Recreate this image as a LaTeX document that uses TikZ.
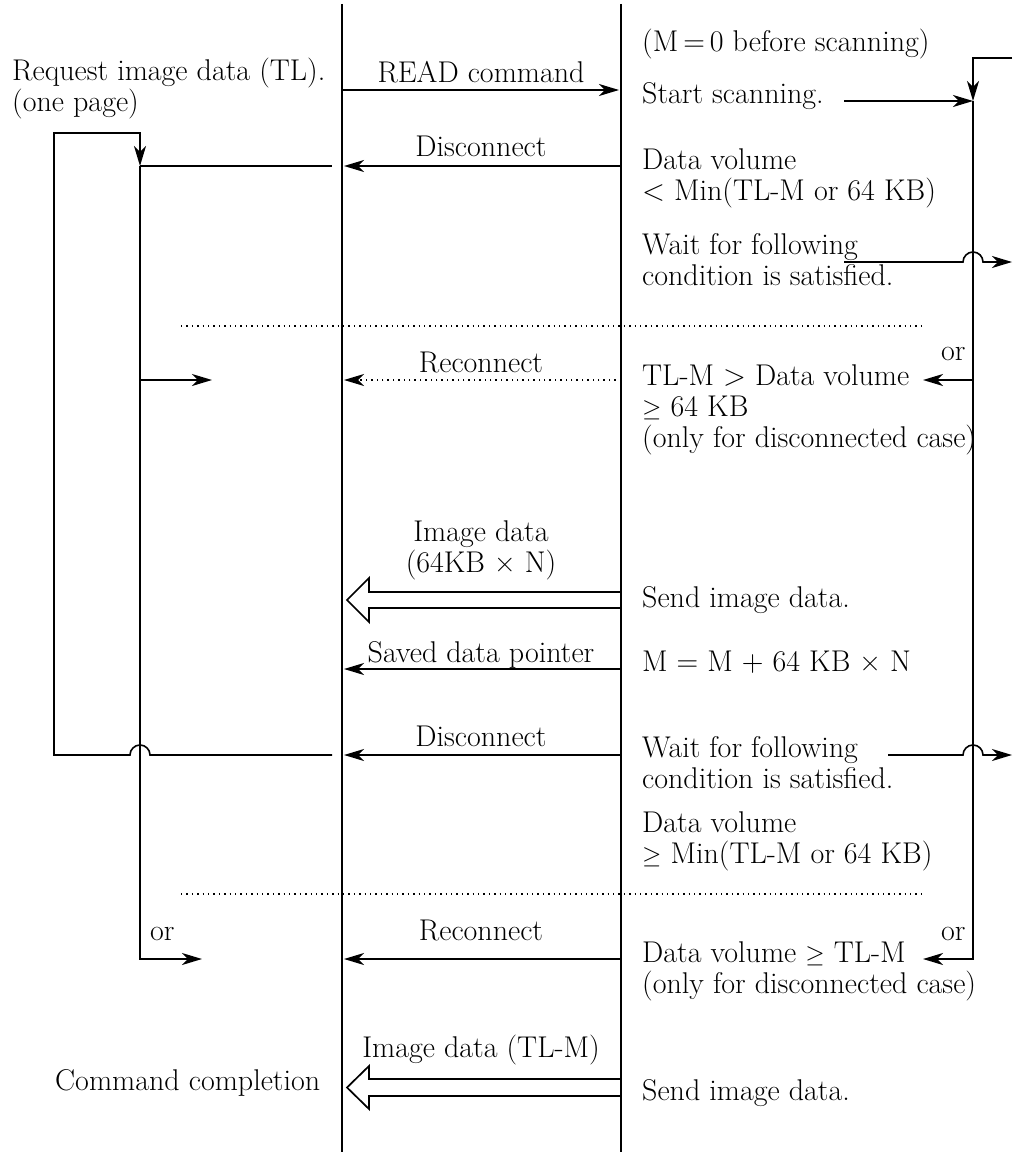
\documentclass[tikz,border=0pt]{standalone}
\usepackage{amsmath,amssymb}
\usepackage{tikz}
\usetikzlibrary{arrows.meta,calc}

\tikzset{
  life/.style={line width=1.1pt},
  link/.style={line width=1.6pt},
  msg/.style={line width=1.6pt, -{Stealth[length=20pt,width=12pt,inset=6pt]}},
  dotline/.style={line width=1.4pt, dash pattern=on 1.4pt off 4pt},
  fat/.style={line width=1.7pt, line join=miter},
  lbl/.style={anchor=base, inner sep=0pt, align=center},
  note/.style={anchor=base west, inner sep=0pt, align=left},
}

% hollow data arrow from scanner to host at a row
\newcommand{\fatarrow}[3]{%
  \draw[fat] ($(scan |- #1)+(0,-#2)$) -- ($(host |- #1)+(27,-#2)$)
    -- ($(host |- #1)+(27,-#3)$) -- ($(host |- #1)+(5,0)$)
    -- ($(host |- #1)+(27,#3)$) -- ($(host |- #1)+(27,#2)$)
    -- ($(scan |- #1)+(0,#2)$);}

\begin{document}
\begin{tikzpicture}[x=1pt, y=-1pt, >=Stealth, font=\fontsize{30}{31}\selectfont]
    \useasboundingbox (0,0) rectangle (1012,1153);

    % columns
    \coordinate (outer) at (54,0);
    \coordinate (inner) at (140,0);
    \coordinate (host)  at (342,0);
    \coordinate (scan)  at (621,0);
    \coordinate (tapA)  at (844,0);
    \coordinate (tapB)  at (888,0);
    \coordinate (rail)  at (973,0);
    \coordinate (edge)  at (1012,0);
    \coordinate (dotL)  at (181,0);
    \coordinate (dotR)  at (923,0);

    % rows
    \foreach \r/\y in {top/4, bot/1152, rtop/58, read/90, start/101, loop/133,
                       disc/166, wait/262, dotA/326, orA/380, imgA/600, save/669,
                       discB/755, dotB/894, orB/959, imgB/1087.5}
        \coordinate (y-\r) at (0,\y);

    % lifelines
    \draw[life] (host |- y-top) -- (host |- y-bot);
    \draw[life] (scan |- y-top) -- (scan |- y-bot);

    % host side (multi-line nodes sit on their last line)
    \node[note] (request) at (12,112) {Request image data (TL).\\(one page)};
    \draw[msg] ($(host |- y-discB)+(-10,0)$) -- ($(inner |- y-discB)+(10,0)$)
        arc (0:-180:10) -- (outer |- y-discB) -- (outer |- y-loop)
        -- (inner |- y-loop) -- (inner |- y-disc);
    \draw[link] (inner |- y-disc) -- ($(host |- y-disc)+(-10,0)$);
    \draw[msg] (inner |- y-disc) -- (inner |- y-orB) -- ++(62,0);
    \draw[msg] (inner |- y-orA) -- ++(72,0);
    \node[note] (orL) at (150,940) {or};
    \node[note] (done) at (55,1090) {Command completion};

    % messages
    \draw[msg, shorten >=2pt] (host |- y-read) -- (scan |- y-read);
    \node[lbl] (readlbl) at (481,83) {READ command};
    \draw[msg, shorten >=2pt] (scan |- y-disc) -- (host |- y-disc);
    \node[lbl] (disclbl) at (481,157) {Disconnect};
    \draw[dotline] (dotL |- y-dotA) -- (dotR |- y-dotA);
    \draw[msg, dotline, shorten >=2pt] (scan |- y-orA) -- (host |- y-orA);
    \node[lbl] (reclbl) at (481,372) {Reconnect};
    \fatarrow{y-imgA}{8}{22}
    \node[lbl] (imglbl) at (481,572) {Image data\\(64KB × N)};
    \draw[msg, shorten >=2pt] (scan |- y-save) -- (host |- y-save);
    \node[lbl] (savelbl) at (481,662) {Saved data pointer};
    \draw[msg, shorten >=2pt] (scan |- y-discB) -- (host |- y-discB);
    \node[lbl] (discblbl) at (481,746) {Disconnect};
    \draw[dotline] (dotL |- y-dotB) -- (dotR |- y-dotB);
    \draw[msg, shorten >=2pt] (scan |- y-orB) -- (host |- y-orB);
    \node[lbl] (recblbl) at (481,940) {Reconnect};
    \fatarrow{y-imgB}{8.5}{21.5}
    \node[lbl] (lastlbl) at (481,1057) {Image data (TL-M)};

    % scanner side
    \node[note] (mzero) at (642,52) {(M\,=\,0 before scanning)};
    \node[note] (startnote) at (642,103) {Start scanning.};
    \node[note] (lowvol) at (642,200) {Data volume\\< Min(TL-M or 64 KB)};
    \node[note] (waitA) at (642,285) {Wait for following\\condition is satisfied.};
    \node[note] (midvol) at (642,447) {TL-M > Data volume\\$\geq$ 64 KB\\(only for disconnected case)};
    \node[note] (sendA) at (642,607) {Send image data.};
    \node[note] (incr) at (642,671) {M = M + 64 KB × N};
    \node[note] (waitB) at (642,788) {Wait for following\\condition is satisfied.};
    \node[note] (highvol) at (642,863) {Data volume\\$\geq$ Min(TL-M or 64 KB)};
    \node[note] (endvol) at (642,993) {Data volume $\geq$ TL-M\\(only for disconnected case)};
    \node[note] (sendB) at (642,1100) {Send image data.};
    \node[note] (orRA) at (941,360) {or};
    \node[note] (orRB) at (941,940) {or};

    % scanner loop rail
    \draw[msg] (edge |- y-rtop) -- (rail |- y-rtop) -- (rail |- y-start);
    \draw[msg] (tapA |- y-start) -- (rail |- y-start);
    \draw[msg] (rail |- y-start) -- (rail |- y-orB) -- (dotR |- y-orB);
    \draw[msg] (rail |- y-orA) -- (dotR |- y-orA);
    \draw[msg] (tapA |- y-wait) -- ($(rail |- y-wait)+(-10,0)$) arc (180:360:10)
        -- (edge |- y-wait);
    \draw[msg] (tapB |- y-discB) -- ($(rail |- y-discB)+(-10,0)$) arc (180:360:10)
        -- (edge |- y-discB);
\end{tikzpicture}
\end{document}
